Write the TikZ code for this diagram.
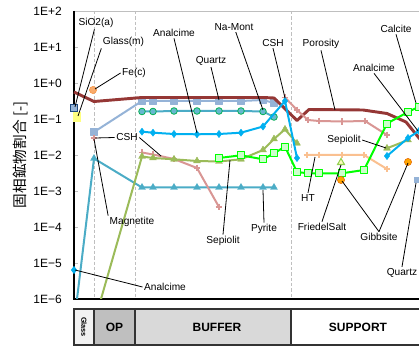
\documentclass[tikz,border=0pt]{standalone}
\usepackage{fontspec}
\setmainfont{Liberation Sans}
\newfontfamily\cjkfont{Noto Sans CJK JP}
\usetikzlibrary{plotmarks}
\definecolor{cPoro}{HTML}{953735}
\definecolor{cQz}{HTML}{95B3D7}
\definecolor{cQzEdge}{HTML}{1F497D}
\definecolor{cTeal}{HTML}{4BACC6}
\definecolor{cNaEdge}{HTML}{00B050}
\definecolor{cAna}{HTML}{00B0F0}
\definecolor{cOlive}{HTML}{9BBB59}
\definecolor{cPink}{HTML}{D99694}
\definecolor{cHT}{HTML}{FAC090}
\definecolor{cCalc}{HTML}{00FF00}
\definecolor{cCalcFill}{HTML}{CCFFCC}
\definecolor{cGib}{HTML}{FFA500}
\definecolor{cGibEdge}{HTML}{E46C0A}
\definecolor{cFe}{HTML}{F79646}
\definecolor{cGlassM}{HTML}{FFFF80}
\definecolor{cFried}{HTML}{92D050}
\definecolor{cGrid}{HTML}{BFBFBF}
\definecolor{cZoneGlass}{HTML}{F2F2F2}
\definecolor{cZoneOP}{HTML}{BFBFBF}
\definecolor{cZoneBuf}{HTML}{D9D9D9}
\begin{document}
\begin{tikzpicture}[x=0.75pt,y=-0.75pt,
 lbl/.style={font=\fontsize{7.6}{9}\selectfont, inner sep=1pt},
 ticklbl/.style={font=\fontsize{9}{10}\selectfont, anchor=east, inner sep=0pt},
 zonelbl/.style={font=\bfseries\fontsize{9}{10}\selectfont, inner sep=0pt},
 zonebox/.style={draw=black!80, line width=1pt},
 leader/.style={draw=black, line width=0.6pt},
 gridln/.style={draw=cGrid, line width=0.6pt, dash pattern=on 2.5pt off 1.5pt},
 sPoro/.style={draw=cPoro, line width=2.2pt, line join=round},
 sQz/.style={draw=cQz, line width=1.5pt, line join=round, mark=square*, mark size=2.6pt, mark options={fill=cQz, draw=cQz, line width=0.4pt}},
 sNa/.style={draw=cTeal, line width=1.5pt, line join=round, mark=*, mark size=2.5pt, mark options={fill=cTeal!85, draw=cNaEdge, line width=0.6pt}},
 sAna/.style={draw=cAna, line width=1.5pt, line join=round, mark=diamond*, mark size=2.7pt, mark options={fill=cAna, draw=cAna, line width=0.3pt}},
 sOl/.style={draw=cOlive, line width=1.5pt, line join=round, mark=triangle*, mark size=3pt, mark options={fill=cOlive, draw=cOlive, line width=0.3pt}},
 sPy/.style={draw=cTeal, line width=1.5pt, line join=round, mark=triangle*, mark size=3pt, mark options={fill=cTeal, draw=cTeal, line width=0.3pt}},
 sPink/.style={draw=cPink, line width=1.5pt, line join=round, mark=+, mark size=2.6pt, mark options={draw=cPink, line width=0.8pt}},
 sHT/.style={draw=cHT, line width=1.5pt, line join=round, mark=+, mark size=2.6pt, mark options={draw=cHT, line width=0.8pt}},
 sCalc/.style={draw=cCalc, line width=1.5pt, line join=round, mark=square*, mark size=2.6pt, mark options={fill=cCalcFill, draw=cCalc, line width=0.6pt}},
]
\useasboundingbox (0,0) rectangle (419,349);
\clip (0,0) rectangle (419,349);

% frame, grid
\draw[draw=cGrid, line width=0.6pt] (74,11) -- (430,11);
\draw[gridln] (94,11) -- (94,299);
\draw[gridln] (135,11) -- (135,299);
\draw[gridln] (291,11) -- (291,299);
\foreach \k in {0,...,8} {\draw[draw=cGrid, line width=0.5pt] (74,{11.5+\k*35.94}) -- (78,{11.5+\k*35.94});}
\draw[black, line width=1.1pt] (74,11) -- (74,299) -- (430,299);

% tick labels
\foreach \k/\t in {0/1E+2,1/1E+1,2/1E+0,3/1E−1,4/1E−2,5/1E−3,6/1E−4,7/1E−5,8/1E−6}
  {\node[ticklbl] (tk\k) at (62,{11.5+\k*35.94}) {\t};}

% y axis label
\node[rotate=90, font=\cjkfont\fontsize{11}{12}\selectfont, inner sep=0pt] (ylab) at (21,155) {固相鉱物割合 [-]};

% zones
\draw[zonebox, fill=cZoneGlass] (74,309) rectangle (94,345);
\draw[zonebox, fill=cZoneOP] (94,309) rectangle (135,345);
\draw[zonebox, fill=cZoneBuf] (135,309) rectangle (291,345);
\draw[zonebox, fill=white] (291,309) rectangle (430,345);
\node[rotate=-90, font=\bfseries\fontsize{5.5}{6}\selectfont, inner sep=0pt] (zGlass) at (84,327) {Glass};
\node[zonelbl] (zOP) at (114.5,327.5) {OP};
\node[zonelbl] (zBuf) at (217,327.5) {BUFFER};
\node[zonelbl] (zSup) at (358,327.5) {SUPPORT};

% data series
\begin{scope}
\clip (60,0) rectangle (430,299);
\draw[sQz] plot coordinates {(94,132) (142,101) (153,101) (174,101) (197,101) (219,101) (241,101) (263,100) (274,103)};
\draw[sPoro] (74,92) -- (94,101.5) -- (142,97.5) -- (263,97.5) -- (274,98) -- (297,120.5) -- (309,109.5) -- (363,110) -- (387,113.5) -- (406,122) -- (419,138) -- (430,150);
\draw[sPy] (77,299) -- (94,158.5);
\draw[sPy] plot coordinates {(94,158.5) (142,187.5) (153,187.5) (174,187.5) (197,187.5) (219,187.5) (241,187.5) (263,187.5) (274,187.5)};
\draw[sPink] plot coordinates {(142,152.5) (153,154.5) (174,159) (197,168) (219,207)};
\draw[sPink] plot coordinates {(285,97.5) (297,110) (308,120) (319,121) (342,121.5) (365,121) (387,135)};
\draw[sPink] plot coordinates {(94,138)};
\draw[sHT] plot coordinates {(307,155) (319,155) (342,155) (364,155) (387,169)};
\draw[sOl] (101,299) -- (142,156.5);
\draw[sOl] plot coordinates {(142,156.5) (153,158) (174,159.3) (197,161) (219,161.5) (241,159.3) (263,150) (274,139) (285,129.3) (297,143.3)};
\draw[sOl] plot coordinates {(387,148.3) (408,140)};
\draw[sNa] plot coordinates {(142,111.5) (153,111.5) (174,111) (197,111) (219,111) (241,111) (263,111.5) (274,117)};
\draw[sAna] plot coordinates {(142,131.7) (153,132.7) (174,134) (197,134.3) (219,134) (241,132.7) (263,126.5) (285,101) (297,158)};
\draw[sAna] plot coordinates {(387,156) (408,138) (419,131) (430,125)};
\draw[sCalc] plot coordinates {(219,158) (241,155.3) (263,159.3) (274,153.3) (285,146.7) (297,172) (308,173.3) (319,173.3) (342,173.3) (364,170) (387,123.5) (408,112) (419,106.7) (430,101)};
\end{scope}

% isolated markers
\coordinate (pSiO) at (74,108);
\coordinate (pGlassM) at (77,117);
\coordinate (pFe) at (93,90);
\coordinate (pAnaB) at (74,270);
\coordinate (pGib1) at (341,180);
\coordinate (pGib2) at (408,162);
\coordinate (pFried) at (341,162.5);
\coordinate (pQzR) at (417,180);
\fill[cGlassM] ([xshift=-3pt,yshift=-3.5pt]pGlassM) rectangle ([xshift=3pt,yshift=3.5pt]pGlassM);
\filldraw[fill=cQz, draw=cQzEdge, line width=0.5pt] ([xshift=-2.4pt,yshift=-2.4pt]pSiO) rectangle ([xshift=2.4pt,yshift=2.4pt]pSiO);
\filldraw[fill=cFe!80, draw=cFe, line width=0.4pt] (pFe) circle[radius=2.7pt];
\fill[cAna] plot[mark=diamond*, mark size=2.7pt] coordinates {(74,270)};
\filldraw[fill=cGib, draw=cGibEdge, line width=0.4pt] (pGib1) circle[radius=2.7pt];
\filldraw[fill=cGib, draw=cGibEdge, line width=0.4pt] (pGib2) circle[radius=2.7pt];
\draw[cFried, line width=0.8pt, fill=yellow!25] plot[mark=triangle*, mark size=3pt] coordinates {(341,162.5)};
\fill[cQz] ([xshift=-2.6pt,yshift=-2.6pt]pQzR) rectangle ([xshift=2.6pt,yshift=2.6pt]pQzR);

% labels
\node[lbl] (lSiO) at (96,23) {SiO2(a)};
\node[lbl] (lGlassM) at (123.5,42) {Glass(m)};
\node[lbl] (lFe) at (134,73) {Fe(c)};
\node[lbl] (lAnaT) at (174,33) {Analcime};
\node[lbl] (lQzT) at (211,61) {Quartz};
\node[lbl] (lNa) at (234,27) {Na-Mont};
\node[lbl] (lCshT) at (273,43) {CSH};
\node[lbl] (lPoro) at (321,44) {Porosity};
\node[lbl] (lCalc) at (396,29) {Calcite};
\node[lbl] (lAnaR) at (374,68) {Analcime};
\node[lbl] (lCshL) at (127,137.5) {CSH};
\node[lbl] (lMag) at (132,222) {Magnetite};
\node[lbl] (lAnaB) at (165,287) {Analcime};
\node[lbl] (lSepB) at (223,241) {Sepiolit};
\node[lbl] (lPyr) at (264,229) {Pyrite};
\node[lbl] (lHT) at (308,198) {HT};
\node[lbl] (lFried) at (322,227) {FriedelSalt};
\node[lbl] (lGib) at (379,237) {Gibbsite};
\node[lbl] (lQzB) at (402,273) {Quartz};
\node[lbl] (lSepR) at (344,140) {Sepiolit};

% leader targets
\coordinate (tSiO) at (75,107);
\coordinate (tGlassM) at (78,116);
\coordinate (tFe) at (95,89);
\coordinate (tAnaT) at (197,133);
\coordinate (tQzT) at (219,100);
\coordinate (tNa) at (263,110);
\coordinate (tCshT) at (285,98);
\coordinate (tPoro) at (335,110);
\coordinate (tCalc) at (416,103);
\coordinate (tAnaR) at (418,131);
\coordinate (tCshL1) at (95,138);
\coordinate (tCshL2) at (161,156);
\coordinate (tMag) at (94,139);
\coordinate (tAnaB) at (75,270);
\coordinate (tSepB) at (230,160);
\coordinate (tPyr) at (263,190);
\coordinate (tHT) at (315,157);
\coordinate (tFried) at (341,165);
\coordinate (tGib1) at (342,181);
\coordinate (tGib2) at (408,163);
\coordinate (tQzB) at (416,183);
\coordinate (tSepR) at (386,148);

% leaders
\draw[leader] (lSiO) -- (tSiO);
\draw[leader] (lGlassM.south west) -- (tGlassM);
\draw[leader] (lFe.west) -- (tFe);
\draw[leader] (lAnaT.south) -- (tAnaT);
\draw[leader] (lQzT.south) -- (tQzT);
\draw[leader] (lNa) -- (tNa);
\draw[leader] (lCshT.south) -- (tCshT);
\draw[leader] (lPoro.south) -- (tPoro);
\draw[leader] (lCalc.south) -- (tCalc);
\draw[leader] (lAnaR.south) -- (tAnaR);
\draw[leader] (lCshL.west) -- (tCshL1);
\draw[leader] (lCshL.east) -- (tCshL2);
\draw[leader] (lMag.north west) -- (tMag);
\draw[leader] (lAnaB.west) -- (tAnaB);
\draw[leader] (lSepB.north) -- (tSepB);
\draw[leader] (lPyr.north) -- (tPyr);
\draw[leader] (lHT.north) -- (tHT);
\draw[leader] (lFried.north) -- (tFried);
\draw[leader] (lGib.north) -- (tGib1);
\draw[leader] (lGib.north) -- (tGib2);
\draw[leader] (lQzB.north) -- (tQzB);
\draw[leader] (lSepR.east) -- (tSepR);
\end{tikzpicture}
\end{document}
